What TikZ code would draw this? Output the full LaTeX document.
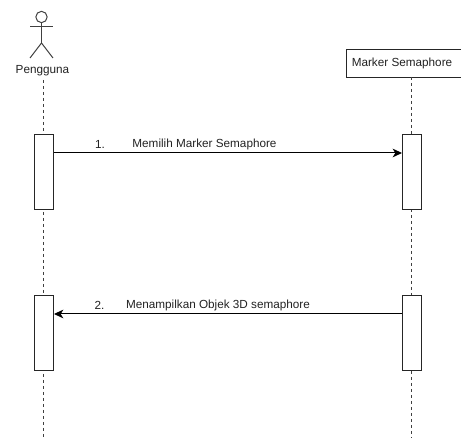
\documentclass[tikz,border=0pt]{standalone}
\usepackage{fontspec}
\setmainfont{Liberation Sans}
\usetikzlibrary{arrows.meta}
\definecolor{txt}{HTML}{222222}
\tikzset{x=0.75pt,y=-0.75pt,
 actline/.style={draw=black!75,line width=0.75pt},
 lifeline/.style={draw=black!75,line width=0.75pt,dash pattern=on 2.25pt off 2.25pt},
 actbox/.style={draw=black!85,fill=white,line width=0.75pt,minimum width=14.25pt,minimum height=56.25pt,inner sep=0pt,anchor=north west},
 message/.style={draw=black,line width=0.75pt,-{Stealth[length=7pt,width=6.5pt,inset=2pt]}},
 lbl/.style={font=\fontsize{8.8pt}{10pt}\selectfont,text=txt,inner sep=0pt},
 header/.style={draw=black!85,fill=white,line width=0.75pt,minimum width=96pt,minimum height=21pt,inner sep=0pt,anchor=north west}}
\begin{document}
\begin{tikzpicture}
\useasboundingbox (0,0) rectangle (461,438);
% actor
\node[actline,circle,minimum size=8.5pt,inner sep=0pt] (head) at (41.5,17) {};
\coordinate (hip) at (41.5,43);
\coordinate (armL) at (30,27);
\coordinate (armR) at (53,27);
\coordinate (legL) at (30,58);
\coordinate (legR) at (53,58);
\draw[actline] (head.south) -- (hip);
\draw[actline] (armL) -- (armR);
\draw[actline] (legL) -- (hip) -- (legR);
\node[lbl] (pengguna) at (42.5,71) {Pengguna};
% header
\node[header] (marker) at (346,49) {};
\node[lbl] (markerText) at (402,63) {Marker Semaphore};
% lifelines
\coordinate (lifeLtop) at (43.5,80);
\coordinate (lifeLend) at (43.5,438);
\coordinate (lifeRtop) at (411.5,77);
\coordinate (lifeRend) at (411.5,438);
\draw[lifeline] (lifeLtop) -- (lifeLend);
\draw[lifeline] (lifeRtop) -- (lifeRend);
% activations
\node[actbox] (a1) at (34,134) {};
\node[actbox] (a2) at (34,295) {};
\node[actbox] (b1) at (402,134) {};
\node[actbox] (b2) at (402,295) {};
% messages
\draw[message] (a1.east |- 0,153) coordinate (m1s) -- (b1.west |- 0,153);
\draw[message] (b2.west |- 0,314) coordinate (m2s) -- (a2.east |- 0,314);
\node[lbl] (n1) at (100,144) {1.};
\node[lbl] (t1) at (204.5,144) {Memilih Marker Semaphore};
\node[lbl] (n2) at (99.5,305) {2.};
\node[lbl] (t2) at (218,305) {Menampilkan Objek 3D semaphore};
\end{tikzpicture}
\end{document}
